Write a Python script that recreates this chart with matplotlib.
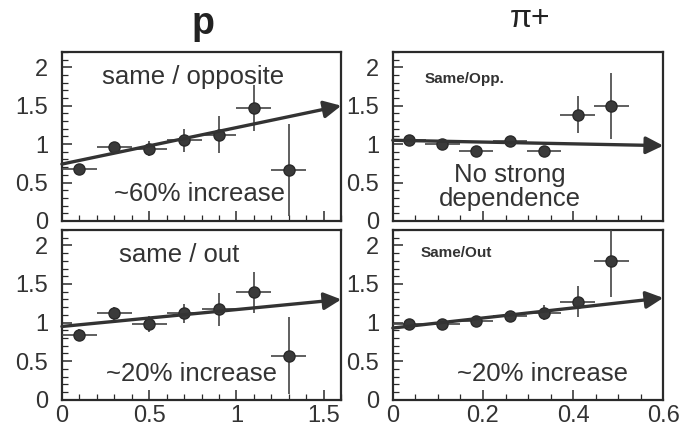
import matplotlib
matplotlib.use('Agg')
import matplotlib.pyplot as plt
from matplotlib.ticker import MultipleLocator

plt.rcParams['font.family'] = ['Liberation Sans', 'DejaVu Sans']

# proton (p) panels
p_x = [0.1, 0.3, 0.5, 0.7, 0.9, 1.1, 1.3]
p_xerr = 0.1
p_opp_y = [0.68, 0.96, 0.94, 1.05, 1.12, 1.47, 0.66]
p_opp_err = [0.05, 0.07, 0.1, 0.15, 0.24, 0.3, 0.6]
p_out_y = [0.84, 1.12, 0.98, 1.12, 1.17, 1.39, 0.57]
p_out_err = [0.08, 0.08, 0.1, 0.12, 0.21, 0.27, 0.5]
p_opp_trend = [0.74, 1.5]
p_out_trend = [0.95, 1.3]

# pion (pi+) panels
pi_x = [0.035, 0.11, 0.185, 0.26, 0.335, 0.41, 0.485]
pi_xerr = 0.038
pi_opp_y = [1.05, 1.0, 0.91, 1.04, 0.91, 1.38, 1.5]
pi_opp_err = [0.03, 0.04, 0.05, 0.06, 0.06, 0.24, 0.43]
pi_out_y = [0.98, 0.98, 1.02, 1.09, 1.13, 1.27, 1.8]
pi_out_err = [0.04, 0.05, 0.05, 0.06, 0.1, 0.2, 0.47]
pi_opp_trend = [1.05, 0.98]
pi_out_trend = [0.93, 1.32]

dark = '#2a2a2a'

fig = plt.figure(figsize=(6.88, 4.29), dpi=100)
ax_po = fig.add_axes([0.090, 0.485, 0.406, 0.394])
ax_pio = fig.add_axes([0.571, 0.485, 0.393, 0.394])
ax_pu = fig.add_axes([0.090, 0.068, 0.406, 0.396])
ax_piu = fig.add_axes([0.571, 0.068, 0.393, 0.396])


def panel(ax, x, y, xerr, yerr, trend, xmax, major, minor):
    ax.errorbar(x, y, xerr=xerr, yerr=yerr, fmt='o', color=dark, ms=8,
                mfc='#3a3a3a', mec=dark, ecolor='#444444', elinewidth=1.2,
                capsize=0, zorder=3)
    ax.annotate('', xy=(xmax, trend[1]), xytext=(0, trend[0]),
                arrowprops=dict(arrowstyle='-|>', color='#333333', lw=2.4,
                                mutation_scale=26, shrinkA=0, shrinkB=0),
                zorder=4, annotation_clip=False)
    ax.set_xlim(0, xmax)
    ax.set_ylim(0, 2.2)
    ax.xaxis.set_major_locator(MultipleLocator(major))
    ax.xaxis.set_minor_locator(MultipleLocator(minor))
    ax.yaxis.set_major_locator(MultipleLocator(0.5))
    ax.yaxis.set_minor_locator(MultipleLocator(0.1))
    ax.tick_params(which='both', direction='in', top=False, right=False,
                   labelsize=17, color=dark, labelcolor='#333333')
    ax.tick_params(axis='y', which='major', pad=10)
    ax.tick_params(which='major', length=7, width=1.1)
    ax.tick_params(which='minor', length=4, width=0.9)
    ax.yaxis.set_major_formatter(plt.FuncFormatter(lambda v, p: f'{v:g}'))
    ax.xaxis.set_major_formatter(plt.FuncFormatter(lambda v, p: f'{v:g}'))
    for s in ax.spines.values():
        s.set_linewidth(1.6)
        s.set_color(dark)


panel(ax_po, p_x, p_opp_y, p_xerr, p_opp_err, p_opp_trend, 1.6, 0.5, 0.1)
panel(ax_pu, p_x, p_out_y, p_xerr, p_out_err, p_out_trend, 1.6, 0.5, 0.1)
panel(ax_pio, pi_x, pi_opp_y, pi_xerr, pi_opp_err, pi_opp_trend, 0.6, 0.2, 0.05)
panel(ax_piu, pi_x, pi_out_y, pi_xerr, pi_out_err, pi_out_trend, 0.6, 0.2, 0.05)

ax_po.tick_params(labelbottom=False)
ax_pio.tick_params(labelbottom=False)

txt = dict(fontsize=18.5, color='#333333', ha='center', va='center')
ax_po.text(0.75, 1.87, 'same / opposite', **txt)
ax_po.text(0.79, 0.35, '~60% increase', **txt)
ax_pu.text(0.67, 1.87, 'same / out', **txt)
ax_pu.text(0.74, 0.33, '~20% increase', **txt)
ax_pio.text(0.07, 1.85, 'Same/Opp.', fontsize=11, fontweight='bold',
            color='#333333', ha='left', va='center')
ax_pio.text(0.26, 0.44, 'No strong\ndependence', fontsize=18.5,
            color='#333333', ha='center', va='center', linespacing=1.0)
ax_piu.text(0.062, 1.9, 'Same/Out', fontsize=11, fontweight='bold',
            color='#333333', ha='left', va='center')
ax_piu.text(0.333, 0.34, '~20% increase', **txt)

fig.text(0.295, 0.945, 'p', fontsize=27, fontweight='bold', color='#222222',
         ha='center', va='center')
fig.text(0.77, 0.955, 'π+', fontsize=23, color='#222222',
         ha='center', va='center')

fig.savefig('out.png', dpi=100)
